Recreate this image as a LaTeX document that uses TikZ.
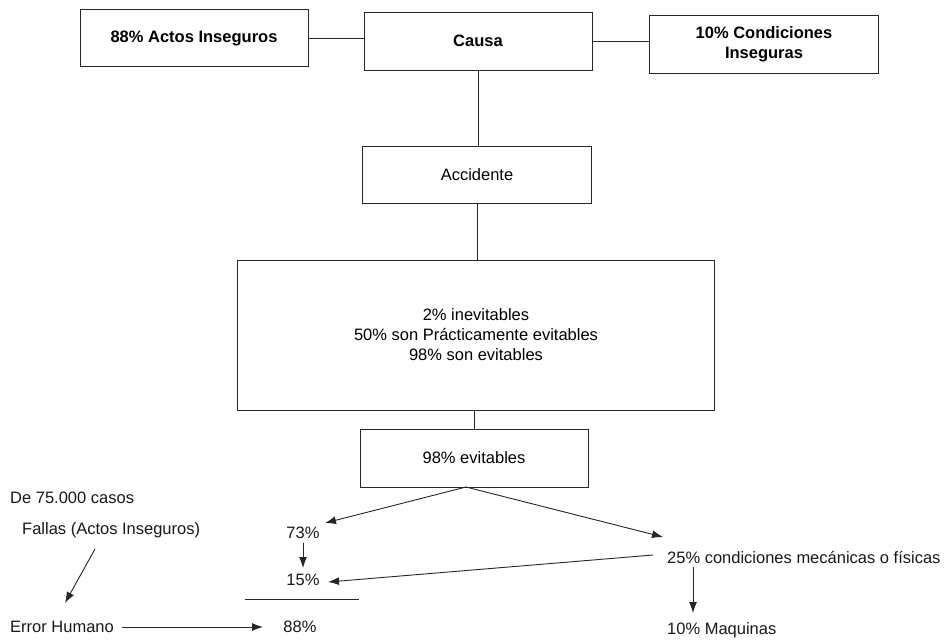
\documentclass[tikz,border=0pt]{standalone}
\usepackage{fontspec}
\setmainfont{Liberation Sans}
\usetikzlibrary{arrows.meta}
\begin{document}
\begin{tikzpicture}[x=1pt,y=-1pt,
  ln/.style={draw=black!85, line width=0.9pt},
  box/.style={ln, rectangle, inner sep=0pt, align=center, font=\fontsize{16.5}{20}\selectfont},
  bbox/.style={box, font=\fontsize{16.5}{20}\selectfont\bfseries},
  txt/.style={inner sep=0pt, font=\fontsize{16.5}{20}\selectfont, text=black!90},
  arr/.style={ln, -{Latex[length=11pt,width=8pt]}}]
\fill[white] (0,0) rectangle (947,640);
\useasboundingbox (0,0) rectangle (947,640);
% boxes
\node[bbox, minimum width=228pt, minimum height=57pt] (a88) at (194,38) {88\% Actos Inseguros};
\node[bbox, minimum width=228pt, minimum height=58pt] (causa) at (478,41) {Causa};
\node[bbox, minimum width=229pt, minimum height=58pt] (cond) at (764,44) {10\% Condiciones\\Inseguras};
\node[box, minimum width=229pt, minimum height=57pt] (acc) at (477,175) {Accidente};
\node[box, minimum width=477pt, minimum height=150pt] (big) at (476,335) {2\% inevitables\\50\% son Prácticamente evitables\\98\% son evitables};
\node[box, minimum width=228pt, minimum height=58pt] (ev) at (474,458) {98\% evitables};
% connectors
\draw[ln] (a88.east) -- (a88.east -| causa.west);
\draw[ln] (causa.east) -- (causa.east -| cond.west);
\draw[ln] (causa.south) -- (causa.south |- acc.north);
\draw[ln] (acc.south) -- (acc.south |- big.north);
\draw[ln] (big.south -| ev.north) -- (ev.north);
% lower texts
\node[txt, anchor=west] (de) at (10,498) {De 75.000 casos};
\node[txt, anchor=west] (fallas) at (22,530) {Fallas (Actos Inseguros)};
\node[txt, anchor=west] (err) at (10,627) {Error Humano};
\node[txt] (t73) at (303,533) {73\%};
\node[txt] (t15) at (303,580) {15\%};
\node[txt] (t88) at (300,627) {88\%};
\node[txt, anchor=west] (t25) at (667,557) {25\% condiciones mecánicas o físicas};
\node[txt, anchor=west] (maq) at (667,630) {10\% Maquinas};
% coordinates
\coordinate (o) at (466,487);
\coordinate (p73) at (325,523);
\coordinate (p25) at (663,537);
\coordinate (s25) at (653,555);
\coordinate (p15) at (328,582);
\coordinate (la) at (245,599);
\coordinate (lb) at (359,599);
\coordinate (f1) at (95,549);
\coordinate (f2) at (65,603);
\coordinate (e1) at (122,627);
\coordinate (e2) at (263,627);
\coordinate (m1) at (693,567);
\coordinate (m2) at (693,613);
\coordinate (q1) at (303,543);
\coordinate (q2) at (303,568);
% arrows
\draw[arr] (o) -- (p73);
\draw[arr] (o) -- (p25);
\draw[arr] (q1) -- (q2);
\draw[arr] (s25) -- (p15);
\draw[ln] (la) -- (lb);
\draw[arr] (f1) -- (f2);
\draw[arr] (e1) -- (e2);
\draw[arr] (m1) -- (m2);
\end{tikzpicture}
\end{document}
